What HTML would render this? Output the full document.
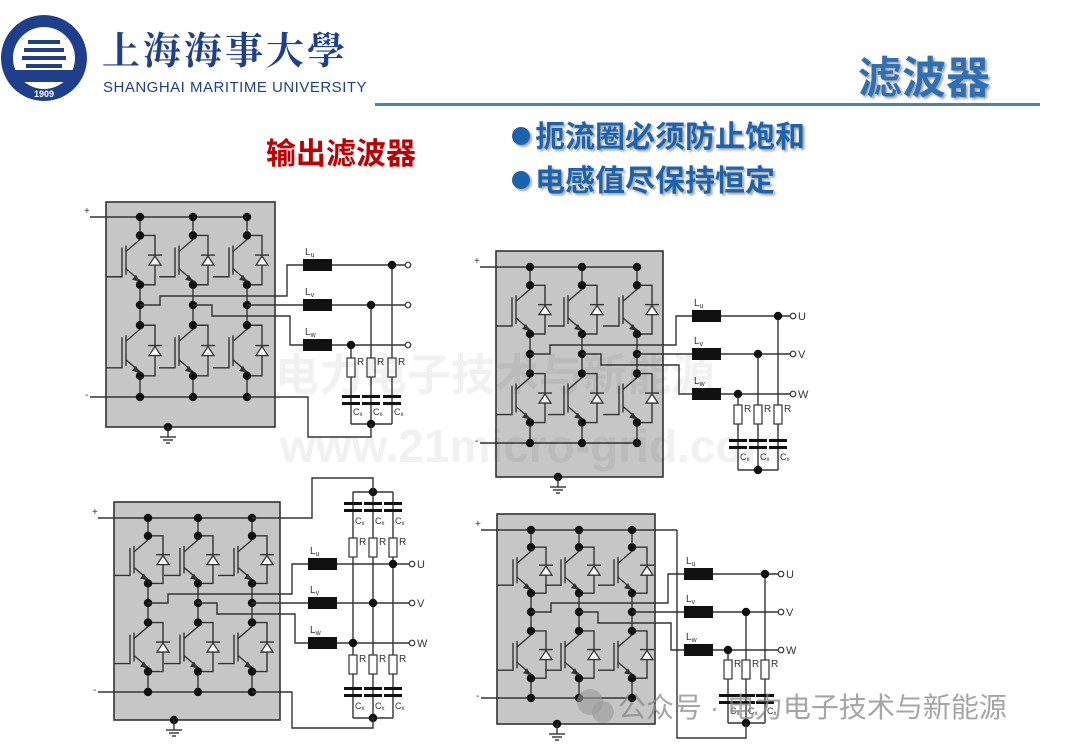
<!DOCTYPE html>
<html><head><meta charset="utf-8">
<style>
html,body{margin:0;padding:0;background:#fff;}
#c{position:relative;width:1080px;height:750px;overflow:hidden;background:#fff;}
svg{position:absolute;left:0;top:0;}
</style></head>
<body><div id="c"><svg id="s" width="1080" height="750" xmlns="http://www.w3.org/2000/svg"></svg>
<svg width="1080" height="750" style="position:absolute;left:0;top:0" xmlns="http://www.w3.org/2000/svg">
<defs><filter id="sh"><feDropShadow dx="2" dy="2" stdDeviation="1" flood-color="#000" flood-opacity="0.35"/></filter></defs>
<circle cx="44" cy="58" r="43" fill="#1f3f8c"/>
<circle cx="44" cy="58" r="31" fill="#fff"/>
<rect x="28" y="40" width="32" height="4" fill="#1f3f8c"/><rect x="24" y="48" width="40" height="4" fill="#1f3f8c"/><rect x="22" y="56" width="44" height="4" fill="#1f3f8c"/><rect x="26" y="64" width="36" height="4" fill="#1f3f8c"/>
<rect x="10" y="70" width="68" height="12" fill="#1f3f8c"/>
<text x="44" y="97" font-size="9" fill="#fff" text-anchor="middle" font-family="Liberation Sans, sans-serif" font-weight="bold">1909</text>
<text x="102" y="64" font-size="38" fill="#1f3f8c" font-weight="bold" font-family="Noto Serif CJK SC, serif" letter-spacing="3">上海海事大學</text>
<text x="103" y="92" font-size="15" fill="#1f3f8c" font-family="Liberation Sans, sans-serif" letter-spacing="0.5">SHANGHAI MARITIME  UNIVERSITY</text>
<rect x="375" y="103" width="665" height="3" fill="#4a7ebf"/>
<text x="858" y="93" font-size="44" fill="#2f6fb3" font-weight="bold" font-family="Noto Sans CJK SC, sans-serif" filter="url(#sh)">滤波器</text>
<text x="266" y="164" font-size="30" fill="#c00000" font-weight="bold" font-family="Noto Sans CJK SC, sans-serif">输出滤波器</text>
<g font-size="30" fill="#1f63ad" font-weight="bold" font-family="Noto Sans CJK SC, sans-serif" filter="url(#sh)">
<circle cx="521" cy="136" r="9" fill="#1f63ad"/><text x="535" y="147">扼流圈必须防止饱和</text>
<circle cx="521" cy="180" r="9" fill="#1f63ad"/><text x="535" y="191">电感值尽保持恒定</text>
</g>
</svg>
</div>
<script>
let s='';
const ST='stroke="#333" stroke-width="1.4" fill="none"';
function P(){const a=[...arguments];let p=[];for(let i=0;i<a.length;i+=2)p.push(a[i]+','+a[i+1]);s+=`<polyline points="${p.join(' ')}" ${ST}/>`;}
function N(x,y){s+=`<circle cx="${x}" cy="${y}" r="4.2" fill="#111"/>`;}
function T(x,y,t,sz,col,extra){s+=`<text x="${x}" y="${y}" font-size="${sz}" fill="${col||'#333'}" font-family="Liberation Sans, Noto Sans CJK SC, sans-serif" ${extra||''}>${t}</text>`;}
function IGBT(c,a,b){
  P(c-18,a+12,c-18,b-8,c-34,b-8);
  P(c-14,a+10,c-14,b-10);
  P(c,a,c,a+4,c-14,a+16);
  P(c-14,b-16,c,b-4,c,b);
  s+=`<polygon points="${c},${b-3} ${c-8},${b-5} ${c-4},${b-10}" fill="#333"/>`;
  P(c,a,c+15,a,c+15,b,c,b);
  const m=(a+b)/2;
  s+=`<polygon points="${c+9},${m+5} ${c+21},${m+5} ${c+15},${m-4}" fill="#fff" stroke="#333" stroke-width="1.3"/>`;
  P(c+8,m-5,c+22,m-5);
}
function inverter(X,Y,W,H,cols,yT,yM,yB,gx,railR){
  s+=`<rect x="${X}" y="${Y}" width="${W}" height="${H}" fill="#c6c6c6" stroke="#333" stroke-width="1.6"/>`;
  P(X-16,yT,railR||cols[2],yT);P(X-16,yB,cols[2],yB);
  T(X-22,yT-3,'+',10);T(X-21,yB+1,'-',10);
  for(const c of cols){
    const uc=yT+(yM-yT)*0.21,ue=yT+(yM-yT)*0.77,lc=yM+(yB-yM)*0.22,le=yM+(yB-yM)*0.77;
    P(c,yT,c,uc);P(c,ue,c,lc);P(c,le,c,yB);
    IGBT(c,uc,ue);IGBT(c,lc,le);
    [yT,uc,ue,yM,lc,le,yB].forEach(y=>N(c,y));
  }
  const gy=Y+H;N(gx,gy);P(gx,gy,gx,gy+10);P(gx-8,gy+10,gx+8,gy+10);P(gx-5,gy+13,gx+5,gy+13);P(gx-2,gy+16,gx+2,gy+16);
}
function outs(cols,yM,uy,vy,wy,lx,tx,lab){
  P(cols[0],yM,cols[0]+20,yM,cols[0]+20,yM-9,lx-16,yM-9,lx-16,uy,lx,uy);
  P(cols[2],yM,lx,vy);
  P(cols[1],yM,cols[1]+19,yM,cols[1]+19,yM+11,lx-13,yM+11,lx-13,wy,lx,wy);
  const n=['u','v','w'];const L=['U','V','W'];
  [uy,vy,wy].forEach((y,i)=>{
    s+=`<rect x="${lx}" y="${y-6}" width="29" height="12" fill="#111"/>`;
    P(lx+29,y,tx-3,y);
    s+=`<circle cx="${tx}" cy="${y}" r="2.8" fill="#fff" stroke="#333" stroke-width="1.2"/>`;
    T(lx+2,y-10,'L<tspan font-size="7" dy="2">'+n[i]+'</tspan>',10);
    if(lab)T(tx+5,y+4,L[i],11);
  });
}
function rc(xs,ry,cy,label){
  xs.forEach((x,i)=>{
    s+=`<rect x="${x-4}" y="${ry}" width="8" height="19" fill="#fff" stroke="#333" stroke-width="1.2"/>`;
    T(x+6,ry+7,'R',10);
    s+=`<rect x="${x-9}" y="${cy-5}" width="18" height="3" fill="#111"/><rect x="${x-9}" y="${cy+2}" width="18" height="3" fill="#111"/>`;
    T(x+2,cy+label,'C<tspan font-size="6" dy="1">x</tspan>',9);
  });
}
let c1=[140,193,247];
inverter(106,202,169,225,c1,217,305,397,168);
outs(c1,305,265,305,345,303,408,false);
let x1=[351,371,392],ln1=[345,305,265];
x1.forEach((x,i)=>{P(x,ln1[i],x,405);P(x,405,x,424);N(x,ln1[i]);});
rc(x1,358,400,15);
P(351,424,392,424);N(371,424);P(371,424,371,437,308,437,308,397,247,397);
let c2=[530,582,637];
inverter(496,251,167,226,c2,267,354,443,558);
outs(c2,354,316,354,394,692,793,true);
let x2=[738,758,778],ln2=[394,354,316];
x2.forEach((x,i)=>{P(x,ln2[i],x,470);N(x,ln2[i]);});
rc(x2,405,444,16);
P(738,470,778,470);N(758,470);
let c3=[148,198,252];
inverter(114,502,166,218,c3,518,603,692,174,252);
outs(c3,603,564,603,643,308,412,true);
let x3=[353,373,393],ln3=[643,603,564];
x3.forEach((x,i)=>{P(x,492,x,718);N(x,ln3[i]);});
rc(x3,538,507,17);
rc(x3,655,692,17);
P(353,492,393,492);N(373,492);P(252,518,312,518,312,478,373,478,373,492);
P(353,718,393,718);N(373,718);P(373,718,373,728,292,728,292,692,252,692);
let c4=[531,579,632];
inverter(497,514,158,210,c4,530,612,698,557,677);
outs(c4,612,574,612,650,684,781,true);
let x4=[728,746,765],ln4=[650,612,574];
x4.forEach((x,i)=>{P(x,ln4[i],x,723);N(x,ln4[i]);});
rc(x4,660,699,15);
P(728,723,765,723);N(746,723);P(677,530,677,738,746,738,746,723);
s+=`<text x="275" y="390" font-size="44" fill="#000" opacity="0.05" font-weight="bold" font-family="Noto Sans CJK SC, sans-serif">电力电子技术与新能源</text>`;
s+=`<text x="280" y="462" font-size="46" fill="#000" opacity="0.05" font-weight="bold" font-family="Liberation Sans, sans-serif">www.21micro-grid.com</text>`;
s+=`<circle cx="590" cy="702" r="13" fill="#999" opacity="0.6"/><circle cx="603" cy="712" r="11" fill="#999" opacity="0.6"/>`;
s+=`<text x="618" y="717" font-size="28" fill="#888" opacity="0.75" font-family="Liberation Sans, Noto Sans CJK SC, sans-serif">公众号 · 电力电子技术与新能源</text>`;
document.getElementById('s').innerHTML+=s;
</script>
</body></html>
